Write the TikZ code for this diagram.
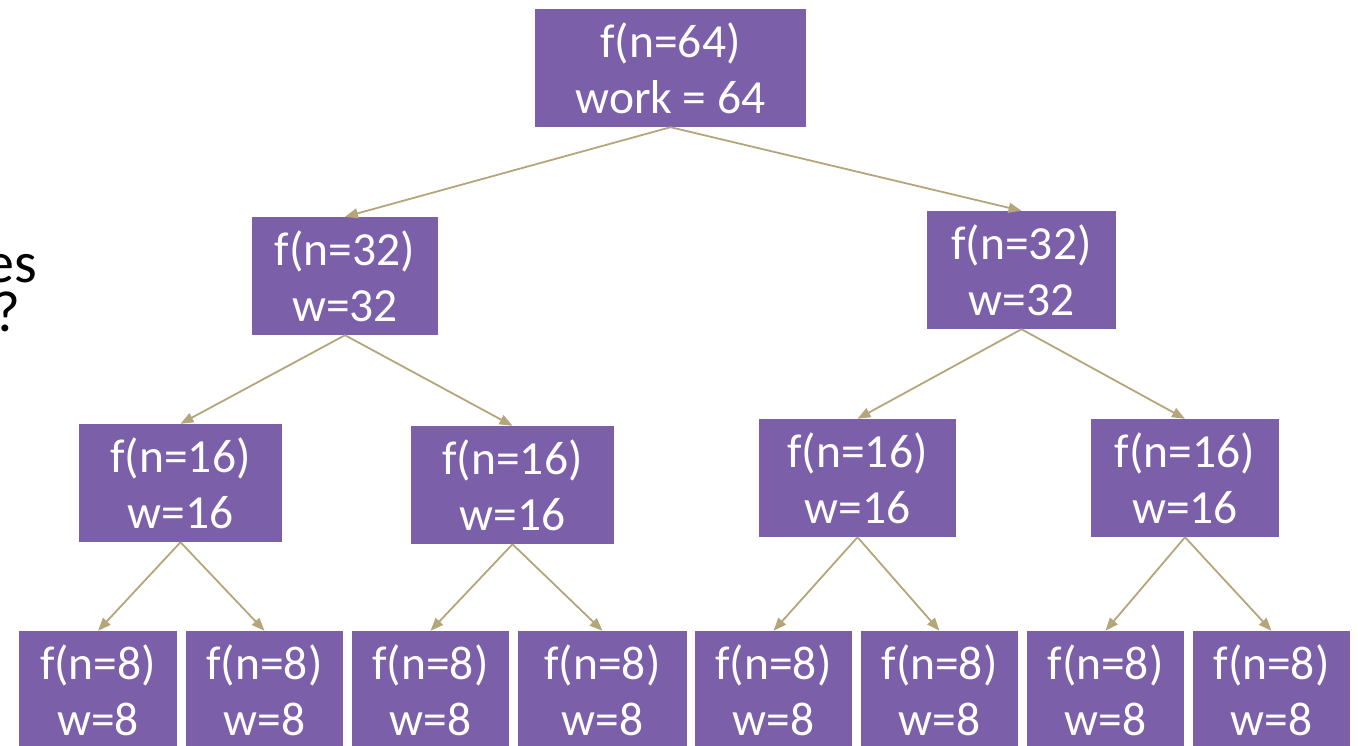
\documentclass[tikz,border=0pt]{standalone}
\usepackage{fontspec}
\setmainfont{Carlito}
\usetikzlibrary{arrows.meta}
\definecolor{boxpurple}{HTML}{7C5FA9}
\definecolor{arrowtan}{HTML}{B4A57A}
\tikzset{
  box/.style={fill=boxpurple, text=white, inner sep=0pt, align=center,
    font=\fontsize{47.5}{56}\selectfont, minimum height=118pt},
  link/.style={draw=arrowtan, line width=1.8pt, -{Triangle[length=13pt,width=10pt]}},
  side/.style={inner sep=0pt, font=\fontsize{58}{58}\selectfont, anchor=base east}
}
\begin{document}
\begin{tikzpicture}[x=1pt,y=-1pt]
\useasboundingbox (0,0) rectangle (1358,746);
\clip (0,0) rectangle (1358,746);
% left clipped text
\node[side] (t1) at (37,283) {es};
\node[side] (t2) at (21,331) {?};
% level 0
\node[box, minimum width=271pt] (r) at (670.5,68) {f(n=64)\\work = 64};
% level 1
\node[box, minimum width=186pt] (a) at (345,276) {f(n=32)\\w=32};
\node[box, minimum width=189pt] (b) at (1021.5,270) {f(n=32)\\w=32};
% level 2
\node[box, minimum width=203pt] (aa) at (180.5,483) {f(n=16)\\w=16};
\node[box, minimum width=203pt] (ab) at (512.5,485) {f(n=16)\\w=16};
\node[box, minimum width=197pt] (ba) at (857.5,478) {f(n=16)\\w=16};
\node[box, minimum width=188pt] (bb) at (1185,478) {f(n=16)\\w=16};
% level 3
\node[box, minimum width=158pt] (c1) at (98,690) {f(n=8)\\w=8};
\node[box, minimum width=157pt] (c2) at (264.5,690) {f(n=8)\\w=8};
\node[box, minimum width=157pt] (c3) at (430.5,690) {f(n=8)\\w=8};
\node[box, minimum width=169pt] (c4) at (602.5,690) {f(n=8)\\w=8};
\node[box, minimum width=157pt] (c5) at (773.5,690) {f(n=8)\\w=8};
\node[box, minimum width=157pt] (c6) at (939.5,690) {f(n=8)\\w=8};
\node[box, minimum width=157pt] (c7) at (1105.5,690) {f(n=8)\\w=8};
\node[box, minimum width=157pt] (c8) at (1271.5,690) {f(n=8)\\w=8};
% connectors
\draw[link] (r.south) -- (a.north);
\draw[link] (r.south) -- (b.north);
\draw[link] (a.south) -- (aa.north);
\draw[link] (a.south) -- (ab.north);
\draw[link] (b.south) -- (ba.north);
\draw[link] (b.south) -- (bb.north);
\draw[link] (aa.south) -- (c1.north);
\draw[link] (aa.south) -- (c2.north);
\draw[link] (ab.south) -- (c3.north);
\draw[link] (ab.south) -- (c4.north);
\draw[link] (ba.south) -- (c5.north);
\draw[link] (ba.south) -- (c6.north);
\draw[link] (bb.south) -- (c7.north);
\draw[link] (bb.south) -- (c8.north);
\end{tikzpicture}
\end{document}
